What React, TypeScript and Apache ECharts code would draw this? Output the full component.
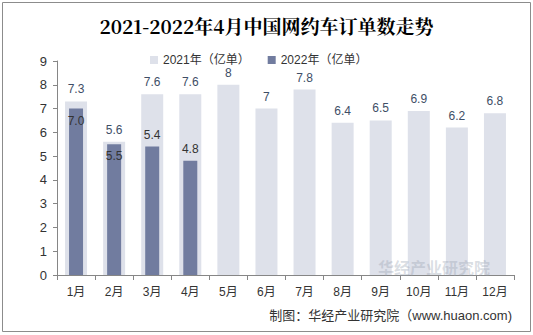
import React, { useEffect, useRef } from "react";
import * as echarts from "echarts";

const categories = ["1月", "2月", "3月", "4月", "5月", "6月", "7月", "8月", "9月", "10月", "11月", "12月"];
const values2021 = [7.3, 5.6, 7.6, 7.6, 8, 7, 7.8, 6.4, 6.5, 6.9, 6.2, 6.8];
const values2022 = [7.0, 5.5, 5.4, 4.8];
const labels2021 = ["7.3", "5.6", "7.6", "7.6", "8", "7", "7.8", "6.4", "6.5", "6.9", "6.2", "6.8"];
const labels2022 = ["7.0", "5.5", "5.4", "4.8"];
const labelPos2022 = ["insideTop", "insideTop", "top", "top"];
const yTicks = [0, 9, 1];

export default function App() {
  const ref = useRef<HTMLDivElement>(null);
  useEffect(() => {
    if (!ref.current) return;
    const chart = echarts.init(ref.current, null, { renderer: "svg" });
    const font = "Arial, 'Liberation Sans', 'Noto Sans CJK SC', sans-serif";
    chart.setOption({
      animation: false,
      backgroundColor: "#ffffff",
      title: {
        text: "2021-2022年4月中国网约车订单数走势",
        left: "center",
        top: 11,
        textStyle: {
          fontFamily: "'Noto Serif CJK SC', 'DejaVu Serif', 'Liberation Serif', serif",
          fontSize: 19,
          fontWeight: "bold",
          color: "#000000",
        },
      },
      legend: {
        top: 49,
        left: 145,
        itemWidth: 8,
        itemHeight: 8,
        itemGap: 18,
        icon: "rect",
        textStyle: { fontFamily: font, fontSize: 12, color: "#333333" },
        data: ["2021年（亿单）", "2022年（亿单）"],
      },
      grid: { left: 57, right: 19, top: 61, bottom: 60, containLabel: false },
      xAxis: [
        {
          type: "category",
          data: categories,
          axisLine: { lineStyle: { color: "#868686" } },
          axisTick: { show: true, length: 5, alignWithLabel: false, lineStyle: { color: "#868686" } },
          axisLabel: { fontFamily: font, fontSize: 12, color: "#333333", margin: 11 },
        },
        {
          type: "category",
          data: categories,
          show: false,
        },
      ],
      yAxis: {
        type: "value",
        min: yTicks[0],
        max: yTicks[1],
        interval: yTicks[2],
        axisLine: { show: true, lineStyle: { color: "#868686" } },
        axisTick: { show: true, length: 4, lineStyle: { color: "#868686" } },
        splitLine: { show: false },
        axisLabel: { fontFamily: font, fontSize: 13, color: "#333333", margin: 10 },
      },
      series: [
        {
          name: "2021年（亿单）",
          type: "bar",
          xAxisIndex: 0,
          barWidth: 22,
          itemStyle: { color: "#DEE1EA" },
          data: values2021.map((v, i) => ({
            value: v,
            label: {
              show: true,
              position: "top",
              distance: 6,
              formatter: labels2021[i],
              fontFamily: font,
              fontSize: 12,
              color: "#3E4E66",
            },
          })),
          z: 1,
        },
        {
          name: "2022年（亿单）",
          type: "bar",
          xAxisIndex: 1,
          barWidth: 14,
          itemStyle: { color: "#717C9F" },
          data: values2022.map((v, i) => ({
            value: v,
            label: {
              show: true,
              position: labelPos2022[i],
              distance: 6,
              formatter: labels2022[i],
              fontFamily: font,
              fontSize: 12,
              color: "#333333",
            },
          })),
          z: 2,
        },
      ],
      graphic: [
        {
          type: "rect",
          shape: { x: 2.5, y: 2.5, width: 528, height: 329 },
          style: { fill: "none", stroke: "#8C8C8C", lineWidth: 1 },
          silent: true,
          z: 100,
        },
        {
          type: "text",
          x: 378,
          y: 259,
          style: {
            text: "华经产业研究院",
            fontFamily: "'Noto Sans CJK SC', sans-serif",
            fontSize: 16,
            fontWeight: "bold",
            fill: "rgba(150,160,175,0.35)",
          },
          silent: true,
          z: 50,
        },
        {
          type: "text",
          right: 21,
          top: 309,
          style: {
            text: "制图：华经产业研究院（www.huaon.com)",
            fontFamily: font,
            fontSize: 13,
            fill: "#333333",
          },
          silent: true,
        },
      ],
    });
    return () => chart.dispose();
  }, []);
  return (
    <div
      ref={ref}
      style={{ position: "fixed", left: 0, top: 0, width: 533, height: 335 }}
    />
  );
}
